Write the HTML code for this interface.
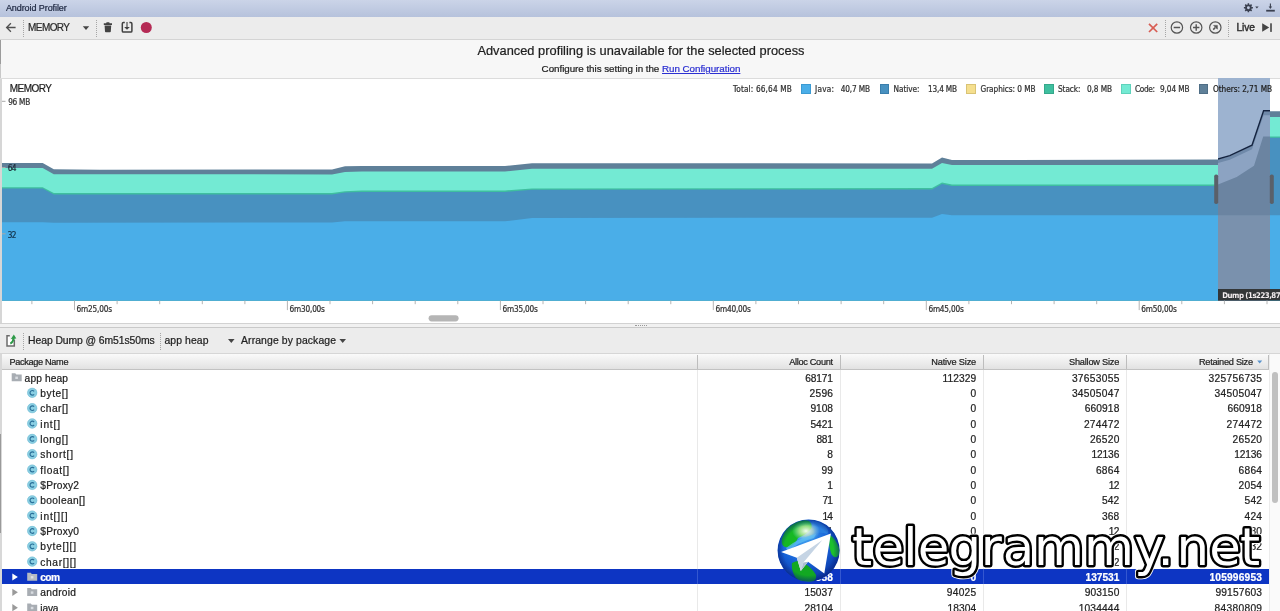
<!DOCTYPE html><html lang="en"><head><meta charset="utf-8"><title>Android Profiler</title><style>
*{box-sizing:border-box;margin:0;padding:0}
html,body{width:1280px;height:611px;overflow:hidden;background:#fff}
body{position:relative;font-family:"Liberation Sans",sans-serif;color:#222}
.t{position:absolute;white-space:pre;-webkit-text-stroke:.22px currentColor}
.abs{position:absolute}
.sep{position:absolute;width:0;border-left:1px dotted #a6a6a6}
svg{position:absolute;overflow:visible}
</style></head><body>
<div class="abs" id="titlebar" style="left:0;top:0;width:1280px;height:17px;background:linear-gradient(#cbd4e8,#b6c2dc)"></div>
<div class="t" style="top:4px;font-size:9px;line-height:9px;color:#1d2740;letter-spacing:-0.075px;left:5.9px;">Android Profiler</div>
<svg style="left:1240px;top:0" width="40" height="17" viewBox="1240 0 40 17">
<g fill="none" stroke="#3a4050" stroke-width="1.9"><circle cx="1248.4" cy="7.8" r="2.4"/></g>
<g stroke="#3a4050" stroke-width="1.5" stroke-linecap="butt">
<path d="M1248.4 3.3v1.8M1248.4 10.5v1.8M1243.9 7.8h1.8M1251.1 7.8h1.8M1245.2 4.6l1.3 1.3M1250.3 9.7l1.3 1.3M1245.2 11l1.3-1.3M1250.3 5.9l1.3-1.3"/></g>
<path d="M1255.2 6.6h3.4l-1.7 2z" fill="#3a4050"/>
<path d="M1270.4 3.4v4.8" fill="none" stroke="#3a4050" stroke-width="1.1"/><path d="M1268.6 6.4h3.6l-1.8 2.4z" fill="#3a4050"/>
<rect x="1266.2" y="9.8" width="8.6" height="1.8" fill="#3a4050"/>
</svg>
<div class="abs" id="toolbar" style="left:0;top:17px;width:1280px;height:23px;background:#ececec;border-bottom:1px solid #d4d4d4"></div>
<svg style="left:0;top:17px" width="160" height="23" viewBox="0 17 160 23">
<path d="M15.6 27.5H6.6M10.9 23.2L6.6 27.5l4.3 4.3" fill="none" stroke="#505050" stroke-width="1.3"/>
<path d="M82.8 26.2h6.4l-3.2 3.8z" fill="#454545"/>
<path d="M103.8 25h8.2v-1.7h-2.3l-.5-1h-2.6l-.5 1h-2.3zM104.6 25.6h6.6l-.4 5.9q-.1.7-.8.7h-4.2q-.7 0-.8-.700z" fill="#424242"/>
<path d="M124.8 22.6h-1.4q-1.1 0-1.1 1.1v7.2q0 1.1 1.1 1.1h7.4q1.1 0 1.1-1.1v-7.2q0-1.1-1.1-1.1h-1.4" fill="none" stroke="#404040" stroke-width="1.5"/>
<path d="M127 22v5.4" fill="none" stroke="#5a5a5a" stroke-width="1.3"/><path d="M124.2 27h5.6l-2.8 2.7z" fill="#404040"/>
<circle cx="146.3" cy="27.5" r="5.5" fill="#b52b55"/>
</svg>
<div class="sep" style="left:23px;top:20px;height:17px"></div>
<div class="sep" style="left:96px;top:20px;height:17px"></div>
<div class="t" style="top:23px;font-size:10px;line-height:10px;color:#2a2a2a;letter-spacing:-0.586px;left:28.1px;">MEMORY</div>
<svg style="left:1140px;top:17px" width="140" height="23" viewBox="1140 17 140 23">
<path d="M1149 23.8l8.2 8.2M1157.2 23.8l-8.2 8.2" stroke="#d85d53" stroke-width="1.7" fill="none"/>
<g fill="none" stroke="#555" stroke-width="1.2">
<circle cx="1176.9" cy="27.5" r="5.7"/><circle cx="1196.2" cy="27.5" r="5.7"/><circle cx="1215.3" cy="27.5" r="5.7"/>
<path d="M1173.7 27.5h6.4M1193 27.5h6.4M1196.2 24.3v6.4" stroke-width="1.4"/>
</g>
<path d="M1213.6 25.4h3.8v3.8z" fill="#555" stroke="#555" stroke-width=".6" stroke-linejoin="round"/><path d="M1213.2 29.6l2-2" stroke="#555" stroke-width="1.5" fill="none"/>
<path d="M1262.2 23.3l7 4.2-7 4.2z" fill="#444"/><rect x="1270.2" y="23.3" width="1.6" height="8.6" fill="#444"/>
</svg>
<div class="sep" style="left:1165px;top:20px;height:17px"></div>
<div class="sep" style="left:1228px;top:20px;height:17px"></div>
<div class="t" style="top:23px;font-size:10.2px;line-height:10.2px;color:#2a2a2a;letter-spacing:-0.068px;left:1236.5px;-webkit-text-stroke:.38px #2a2a2a;">Live</div>
<div class="abs" id="banner" style="left:0;top:40px;width:1280px;height:39px;background:#f7f7f7;border-bottom:1px solid #dcdcdc"></div>
<div class="t" style="top:45px;font-size:12.8px;line-height:12.8px;color:#1e1e1e;letter-spacing:0.023px;left:477.4px;">Advanced profiling is unavailable for the selected process</div>
<div class="t" style="top:64px;font-size:9.8px;line-height:9.8px;color:#222;letter-spacing:-0.036px;left:541.6px;">Configure this setting in the </div>
<div class="t" style="top:64px;font-size:9.8px;line-height:9.8px;color:#2b2fd2;letter-spacing:-0.036px;left:662px;text-decoration:underline;">Run Configuration</div>
<div class="abs" style="left:0;top:40px;width:1.3px;height:24px;background:#9c9c9c"></div><div class="abs" style="left:0;top:64px;width:1.3px;height:14px;background:#c8c8c8"></div><div class="abs" style="left:0;top:79px;width:2px;height:245px;background:#d6d6d6"></div>
<svg id="chart" style="left:0;top:78px" width="1280" height="246" viewBox="0 78 1280 246"><path d="M2 163.1 L42.7 163.1 L53.8 169.2 L100 169.8 L332 169.4 L345 166.3 L362 166 L505 166 L532 163.2 L932 163.5 L942 157.5 L952 160 L1218 159.5 L1229.8 156.2 L1252 145.7 L1263.6 111.3 L1280 111.3 L1280 300.6 L2 300.6 Z" fill="#5f8099"/><path d="M2 168 L42.7 168 L53.8 174.2 L332 174.4 L345 172 L362 171.5 L505 171.5 L532 168.7 L932 168.7 L942 163 L952 165 L1218 165 L1229.8 161.5 L1252 151 L1263.6 116.9 L1280 116.9 L1280 300.6 L2 300.6 Z" fill="#73ead3"/><path d="M2 187.2 L42.7 187.2 L53.8 193.1 L332 193 L345 191.2 L362 190.5 L505 190.5 L532 188.4 L932 188 L942 182.5 L952 184.5 L1218 184.5 L1236.7 177 L1254 165.7 L1263.2 136.4 L1280 136.4 L1280 300.6 L2 300.6 Z" fill="#3fbf9f"/><path d="M2 188.6 L42.7 188.6 L53.8 194.5 L332 194.4 L345 192.6 L362 191.9 L505 191.9 L532 189.8 L932 189.4 L942 183.9 L952 185.9 L1218 185.9 L1236.7 178.4 L1254 167.1 L1263.2 137.8 L1280 137.8 L1280 300.6 L2 300.6 Z" fill="#4891c0"/><path d="M2 222.2 L42.7 222.2 L53.8 222.8 L332 222.5 L345 221.3 L505 221.3 L532 218 L932 217.7 L942 214 L952 215.2 L1280 215.2 L1280 300.6 L2 300.6 Z" fill="#4aaee8"/><clipPath id="sel"><rect x="1218" y="78" width="52" height="222.6"/></clipPath><g clip-path="url(#sel)"><rect x="1218" y="78" width="52" height="222.6" fill="#9db3d0"/><path d="M2 163.1 L42.7 163.1 L53.8 169.2 L100 169.8 L332 169.4 L345 166.3 L362 166 L505 166 L532 163.2 L932 163.5 L942 157.5 L952 160 L1218 159.5 L1229.8 156.2 L1252 145.7 L1263.6 111.3 L1280 111.3 L1280 300.6 L2 300.6 Z" fill="#6f89a9"/><path d="M2 166.6 L42.7 166.6 L53.8 172.7 L100 173.3 L332 172.9 L345 169.8 L362 169.5 L505 169.5 L532 166.7 L932 167 L942 161 L952 163.5 L1218 163 L1229.8 159.7 L1252 149.2 L1263.6 115.3 L1280 115.3 L1280 300.6 L2 300.6 Z" fill="#8ca3c2"/><path d="M2 187.2 L42.7 187.2 L53.8 193.1 L332 193 L345 191.2 L362 190.5 L505 190.5 L532 188.4 L932 188 L942 182.5 L952 184.5 L1218 184.5 L1236.7 177 L1254 165.7 L1263.2 136.4 L1280 136.4 L1280 300.6 L2 300.6 Z" fill="#6b84a1"/><path d="M2 222.2 L42.7 222.2 L53.8 222.8 L332 222.5 L345 221.3 L505 221.3 L532 218 L932 217.7 L942 214 L952 215.2 L1280 215.2 L1280 300.6 L2 300.6 Z" fill="#7a91ad"/><path d="M1218 159 L1229.8 155.7 L1252 145.2 L1263.6 110.8 L1280 110.8" fill="none" stroke="#14233f" stroke-width="1.4"/></g><rect x="1214.2" y="174.4" width="4" height="29.6" rx="1.8" fill="#5a6069"/><rect x="1269.8" y="174.4" width="4" height="29.6" rx="1.8" fill="#5a6069"/><rect x="1218" y="289" width="62" height="11.6" fill="#333638"/><rect x="2" y="100.8" width="3.5" height="1" fill="#a8a8a8"/><rect x="2" y="167" width="3.5" height="1" fill="#a8a8a8"/><rect x="2" y="233.3" width="3.5" height="1" fill="#a8a8a8"/><path d="M31.9 300.6v3.6M74.5 300.6v9.5M117.1 300.6v3.6M159.7 300.6v3.6M202.3 300.6v3.6M244.9 300.6v3.6M287.4 300.6v9.5M330 300.6v3.6M372.6 300.6v3.6M415.2 300.6v3.6M457.8 300.6v3.6M500.4 300.6v9.5M543 300.6v3.6M585.6 300.6v3.6M628.2 300.6v3.6M670.8 300.6v3.6M713.3 300.6v9.5M755.9 300.6v3.6M798.5 300.6v3.6M841.1 300.6v3.6M883.7 300.6v3.6M926.3 300.6v9.5M968.9 300.6v3.6M1011.5 300.6v3.6M1054.1 300.6v3.6M1096.7 300.6v3.6M1139.2 300.6v9.5M1181.8 300.6v3.6M1224.4 300.6v3.6M1267 300.6v3.6" stroke="#b4b4b4" stroke-width="1" fill="none"/><rect x="428.6" y="315.2" width="30" height="6.2" rx="3.1" fill="#b5b5b5"/></svg>
<div class="t" style="top:84px;font-size:10px;line-height:10px;color:#1e1e1e;letter-spacing:-0.526px;left:9.8px;">MEMORY</div>
<div class="t" style="top:98px;font-size:8.2px;line-height:8.2px;color:#333;font-family:'DejaVu Sans Condensed', 'DejaVu Sans', sans-serif;letter-spacing:-0.281px;left:8.2px;">96 MB</div>
<div class="t" style="top:164px;font-size:8.2px;line-height:8.2px;color:#1c2c38;font-family:'DejaVu Sans Condensed', 'DejaVu Sans', sans-serif;letter-spacing:-0.575px;left:7.7px;">64</div>
<div class="t" style="top:231px;font-size:8.2px;line-height:8.2px;color:#12324a;font-family:'DejaVu Sans Condensed', 'DejaVu Sans', sans-serif;letter-spacing:-0.575px;left:7.7px;">32</div>
<div class="t" style="top:305px;font-size:8.2px;line-height:8.2px;color:#333;font-family:'DejaVu Sans Condensed', 'DejaVu Sans', sans-serif;letter-spacing:-0.197px;left:76.6px;">6m25,00s</div>
<div class="t" style="top:305px;font-size:8.2px;line-height:8.2px;color:#333;font-family:'DejaVu Sans Condensed', 'DejaVu Sans', sans-serif;letter-spacing:-0.197px;left:289.55px;">6m30,00s</div>
<div class="t" style="top:305px;font-size:8.2px;line-height:8.2px;color:#333;font-family:'DejaVu Sans Condensed', 'DejaVu Sans', sans-serif;letter-spacing:-0.197px;left:502.5px;">6m35,00s</div>
<div class="t" style="top:305px;font-size:8.2px;line-height:8.2px;color:#333;font-family:'DejaVu Sans Condensed', 'DejaVu Sans', sans-serif;letter-spacing:-0.197px;left:715.45px;">6m40,00s</div>
<div class="t" style="top:305px;font-size:8.2px;line-height:8.2px;color:#333;font-family:'DejaVu Sans Condensed', 'DejaVu Sans', sans-serif;letter-spacing:-0.197px;left:928.4px;">6m45,00s</div>
<div class="t" style="top:305px;font-size:8.2px;line-height:8.2px;color:#333;font-family:'DejaVu Sans Condensed', 'DejaVu Sans', sans-serif;letter-spacing:-0.197px;left:1141.35px;">6m50,00s</div>
<div class="t" style="top:292px;font-size:7.8px;line-height:7.8px;color:#f4eef0;font-weight:bold;font-family:'DejaVu Sans Condensed', 'DejaVu Sans', sans-serif;letter-spacing:-0.511px;left:1222.3px;-webkit-text-stroke:0;">Dump (1s223,87</div>
<div class="t" style="top:85px;font-size:8.2px;line-height:8.2px;color:#333;font-family:'DejaVu Sans Condensed', 'DejaVu Sans', sans-serif;letter-spacing:0.149px;left:733px;">Total: 66,64 MB</div>
<div class="abs" style="left:801px;top:84px;width:9.5px;height:9.5px;background:#4aaee8;border:1px solid #3b9ad2"></div>
<div class="t" style="top:85px;font-size:8.2px;line-height:8.2px;color:#333;font-family:'DejaVu Sans Condensed', 'DejaVu Sans', sans-serif;letter-spacing:0.238px;left:815px;">Java:</div>
<div class="t" style="top:85px;font-size:8.2px;line-height:8.2px;color:#333;font-family:'DejaVu Sans Condensed', 'DejaVu Sans', sans-serif;letter-spacing:-0.159px;left:840.8px;">40,7 MB</div>
<div class="abs" style="left:879.7px;top:84px;width:9.5px;height:9.5px;background:#4891c0;border:1px solid #3a7eac"></div>
<div class="t" style="top:85px;font-size:8.2px;line-height:8.2px;color:#333;font-family:'DejaVu Sans Condensed', 'DejaVu Sans', sans-serif;letter-spacing:-0.057px;left:893.5px;">Native:</div>
<div class="t" style="top:85px;font-size:8.2px;line-height:8.2px;color:#333;font-family:'DejaVu Sans Condensed', 'DejaVu Sans', sans-serif;letter-spacing:-0.193px;left:928px;">13,4 MB</div>
<div class="abs" style="left:966.3px;top:84px;width:9.5px;height:9.5px;background:#f5df8e;border:1px solid #d9c375"></div>
<div class="t" style="top:85px;font-size:8.2px;line-height:8.2px;color:#333;font-family:'DejaVu Sans Condensed', 'DejaVu Sans', sans-serif;letter-spacing:-0.061px;left:980.5px;">Graphics: 0 MB</div>
<div class="abs" style="left:1044.3px;top:84px;width:9.5px;height:9.5px;background:#3fbf9f;border:1px solid #35a88b"></div>
<div class="t" style="top:85px;font-size:8.2px;line-height:8.2px;color:#333;font-family:'DejaVu Sans Condensed', 'DejaVu Sans', sans-serif;letter-spacing:-0.078px;left:1058px;">Stack:</div>
<div class="t" style="top:85px;font-size:8.2px;line-height:8.2px;color:#333;font-family:'DejaVu Sans Condensed', 'DejaVu Sans', sans-serif;letter-spacing:-0.094px;left:1087px;">0,8 MB</div>
<div class="abs" style="left:1121.3px;top:84px;width:9.5px;height:9.5px;background:#73ead3;border:1px solid #5fd2bb"></div>
<div class="t" style="top:85px;font-size:8.2px;line-height:8.2px;color:#333;font-family:'DejaVu Sans Condensed', 'DejaVu Sans', sans-serif;letter-spacing:-0.34px;left:1135px;">Code:</div>
<div class="t" style="top:85px;font-size:8.2px;line-height:8.2px;color:#333;font-family:'DejaVu Sans Condensed', 'DejaVu Sans', sans-serif;letter-spacing:-0.109px;left:1160px;">9,04 MB</div>
<div class="abs" style="left:1198.6px;top:84px;width:9.5px;height:9.5px;background:#5f8099;border:1px solid #4f6e86"></div>
<div class="t" style="top:85px;font-size:8.2px;line-height:8.2px;color:#222;font-family:'DejaVu Sans Condensed', 'DejaVu Sans', sans-serif;letter-spacing:-0.051px;left:1213px;">Others: 2,71 MB</div>
<div class="abs" style="left:0;top:323px;width:1280px;height:5px;background:#f1f1f1;border-top:1px solid #d2d2d2;border-bottom:1px solid #c9c9c9"></div>
<div class="abs" style="left:635px;top:325px;width:12px;height:0;border-top:1px dotted #999"></div>
<div class="abs" id="heapbar" style="left:0;top:328px;width:1280px;height:26px;background:#ececec"></div>
<svg style="left:0;top:328px" width="30" height="26" viewBox="0 328 30 26">
<path d="M7 335.7h7.3v10.2H7z" fill="#fff" stroke="#6c6c6c" stroke-width="1.5"/>
<rect x="9.8" y="334" width="7" height="5.6" fill="#ececec"/>
<path d="M10.3 343.6q2.9-1.3 3.3-5.6" fill="none" stroke="#2c9a47" stroke-width="2"/>
<path d="M10.9 339l5.4-.5-2.5-3.9z" fill="#2c9a47"/>
</svg>
<div class="sep" style="left:23px;top:333px;height:17px"></div>
<div class="sep" style="left:160px;top:333px;height:17px"></div>
<div class="t" style="top:336px;font-size:10.4px;line-height:10.4px;color:#222;letter-spacing:-0.089px;left:28.1px;">Heap Dump @ 6m51s50ms</div>
<div class="t" style="top:336px;font-size:10.4px;line-height:10.4px;color:#222;letter-spacing:0.094px;left:164.5px;">app heap</div>
<div class="t" style="top:336px;font-size:10.4px;line-height:10.4px;color:#222;letter-spacing:0.118px;left:241px;">Arrange by package</div>
<svg style="left:220px;top:328px" width="140" height="26" viewBox="220 328 140 26">
<path d="M228 339h6.6l-3.3 3.9zM339.4 339h6.6l-3.3 3.9z" fill="#454545"/></svg>
<div class="abs" id="thead" style="left:0;top:353px;width:1280px;height:17px;background:linear-gradient(#fafafa,#e2e2e2);border-top:1px solid #d6d6d6;border-bottom:1px solid #c2c2c2"></div>
<div class="abs" id="tbody" style="left:1.5px;top:370px;width:1267.5px;height:241px;background:#fff"></div>
<div class="abs" style="left:0;top:354px;width:1.5px;height:257px;background:#d8d8d8"></div><div class="abs" style="left:0;top:434px;width:1.3px;height:99px;background:#9a9a9a"></div>
<div class="abs" style="left:697px;top:355px;width:1px;height:14px;background:#bdbdbd"></div>
<div class="abs" style="left:697px;top:370px;width:1px;height:241px;background:#e9e9e9"></div>
<div class="abs" style="left:839.7px;top:355px;width:1px;height:14px;background:#bdbdbd"></div>
<div class="abs" style="left:839.7px;top:370px;width:1px;height:241px;background:#e9e9e9"></div>
<div class="abs" style="left:982.7px;top:355px;width:1px;height:14px;background:#bdbdbd"></div>
<div class="abs" style="left:982.7px;top:370px;width:1px;height:241px;background:#e9e9e9"></div>
<div class="abs" style="left:1125.9px;top:355px;width:1px;height:14px;background:#bdbdbd"></div>
<div class="abs" style="left:1125.9px;top:370px;width:1px;height:241px;background:#e9e9e9"></div>
<div class="abs" style="left:1268.1px;top:355px;width:1px;height:14px;background:#bdbdbd"></div>
<div class="abs" style="left:1269px;top:354px;width:11px;height:257px;background:#fafafa;border-left:1px solid #ececec"></div>
<div class="abs" style="left:1271.8px;top:372.2px;width:5.8px;height:131px;border-radius:3px;background:#c0c0c0"></div>
<div class="t" style="top:358px;font-size:9.2px;line-height:9.2px;color:#222;letter-spacing:-0.348px;left:9.5px;">Package Name</div>
<div class="t" style="top:358px;font-size:9.2px;line-height:9.2px;color:#222;letter-spacing:-0.328px;left:789.3px;">Alloc Count</div>
<div class="t" style="top:358px;font-size:9.2px;line-height:9.2px;color:#222;letter-spacing:-0.157px;left:931.3px;">Native Size</div>
<div class="t" style="top:358px;font-size:9.2px;line-height:9.2px;color:#222;letter-spacing:-0.21px;left:1069px;">Shallow Size</div>
<div class="t" style="top:358px;font-size:9.2px;line-height:9.2px;color:#222;letter-spacing:-0.267px;left:1199px;">Retained Size</div>
<svg style="left:1255px;top:358px" width="10" height="8" viewBox="1255 358 10 8"><path d="M1257.2 360.4h5l-2.5 3.2z" fill="#5a93cc"/></svg>
<div class="t" style="top:374px;font-size:10.2px;line-height:10.2px;color:#222;letter-spacing:0.129px;left:24.6px;">app heap</div>
<div class="t" style="top:374px;font-size:10.2px;line-height:10.2px;color:#222;letter-spacing:-0.136px;right:447.14px;">68171</div>
<div class="t" style="top:374px;font-size:10.2px;line-height:10.2px;color:#222;letter-spacing:0.11px;right:303.69px;">112329</div>
<div class="t" style="top:374px;font-size:10.2px;line-height:10.2px;color:#222;letter-spacing:0.296px;right:160.4px;">37653055</div>
<div class="t" style="top:374px;font-size:10.2px;line-height:10.2px;color:#222;letter-spacing:0.3px;right:17.7px;">325756735</div>
<div class="t" style="top:389px;font-size:10.2px;line-height:10.2px;color:#222;letter-spacing:0.556px;left:40.3px;">byte[]</div>
<div class="t" style="top:389px;font-size:10.2px;line-height:10.2px;color:#222;letter-spacing:0.243px;right:446.76px;">2596</div>
<div class="t" style="top:389px;font-size:10.2px;line-height:10.2px;color:#222;right:303.8px;">0</div>
<div class="t" style="top:389px;font-size:10.2px;line-height:10.2px;color:#222;letter-spacing:0.296px;right:160.4px;">34505047</div>
<div class="t" style="top:389px;font-size:10.2px;line-height:10.2px;color:#222;letter-spacing:0.296px;right:17.7px;">34505047</div>
<div class="t" style="top:404px;font-size:10.2px;line-height:10.2px;color:#222;letter-spacing:0.443px;left:40.3px;">char[]</div>
<div class="t" style="top:404px;font-size:10.2px;line-height:10.2px;color:#222;letter-spacing:-0.024px;right:447.02px;">9108</div>
<div class="t" style="top:404px;font-size:10.2px;line-height:10.2px;color:#222;right:303.8px;">0</div>
<div class="t" style="top:404px;font-size:10.2px;line-height:10.2px;color:#222;letter-spacing:0.12px;right:160.58px;">660918</div>
<div class="t" style="top:404px;font-size:10.2px;line-height:10.2px;color:#222;letter-spacing:0.12px;right:17.88px;">660918</div>
<div class="t" style="top:420px;font-size:10.2px;line-height:10.2px;color:#222;letter-spacing:0.82px;left:40.3px;">int[]</div>
<div class="t" style="top:420px;font-size:10.2px;line-height:10.2px;color:#222;letter-spacing:-0.024px;right:447.02px;">5421</div>
<div class="t" style="top:420px;font-size:10.2px;line-height:10.2px;color:#222;right:303.8px;">0</div>
<div class="t" style="top:420px;font-size:10.2px;line-height:10.2px;color:#222;letter-spacing:0.28px;right:160.42px;">274472</div>
<div class="t" style="top:420px;font-size:10.2px;line-height:10.2px;color:#222;letter-spacing:0.28px;right:17.72px;">274472</div>
<div class="t" style="top:435px;font-size:10.2px;line-height:10.2px;color:#222;letter-spacing:0.556px;left:40.3px;">long[]</div>
<div class="t" style="top:435px;font-size:10.2px;line-height:10.2px;color:#222;letter-spacing:-0.2px;right:447.2px;">881</div>
<div class="t" style="top:435px;font-size:10.2px;line-height:10.2px;color:#222;right:303.8px;">0</div>
<div class="t" style="top:435px;font-size:10.2px;line-height:10.2px;color:#222;letter-spacing:0.264px;right:160.44px;">26520</div>
<div class="t" style="top:435px;font-size:10.2px;line-height:10.2px;color:#222;letter-spacing:0.264px;right:17.74px;">26520</div>
<div class="t" style="top:450px;font-size:10.2px;line-height:10.2px;color:#222;letter-spacing:0.731px;left:40.3px;">short[]</div>
<div class="t" style="top:450px;font-size:10.2px;line-height:10.2px;color:#222;right:447px;">8</div>
<div class="t" style="top:450px;font-size:10.2px;line-height:10.2px;color:#222;right:303.8px;">0</div>
<div class="t" style="top:450px;font-size:10.2px;line-height:10.2px;color:#222;letter-spacing:-0.136px;right:160.84px;">12136</div>
<div class="t" style="top:450px;font-size:10.2px;line-height:10.2px;color:#222;letter-spacing:-0.136px;right:18.14px;">12136</div>
<div class="t" style="top:466px;font-size:10.2px;line-height:10.2px;color:#222;letter-spacing:0.63px;left:40.3px;">float[]</div>
<div class="t" style="top:466px;font-size:10.2px;line-height:10.2px;color:#222;letter-spacing:0.056px;right:446.94px;">99</div>
<div class="t" style="top:466px;font-size:10.2px;line-height:10.2px;color:#222;right:303.8px;">0</div>
<div class="t" style="top:466px;font-size:10.2px;line-height:10.2px;color:#222;letter-spacing:0.243px;right:160.46px;">6864</div>
<div class="t" style="top:466px;font-size:10.2px;line-height:10.2px;color:#222;letter-spacing:0.243px;right:17.76px;">6864</div>
<div class="t" style="top:481px;font-size:10.2px;line-height:10.2px;color:#222;letter-spacing:0.221px;left:40.3px;">$Proxy2</div>
<div class="t" style="top:481px;font-size:10.2px;line-height:10.2px;color:#222;right:447px;">1</div>
<div class="t" style="top:481px;font-size:10.2px;line-height:10.2px;color:#222;right:303.8px;">0</div>
<div class="t" style="top:481px;font-size:10.2px;line-height:10.2px;color:#222;letter-spacing:-0.744px;right:161.44px;">12</div>
<div class="t" style="top:481px;font-size:10.2px;line-height:10.2px;color:#222;letter-spacing:0.243px;right:17.76px;">2054</div>
<div class="t" style="top:496px;font-size:10.2px;line-height:10.2px;color:#222;letter-spacing:0.347px;left:40.3px;">boolean[]</div>
<div class="t" style="top:496px;font-size:10.2px;line-height:10.2px;color:#222;letter-spacing:-0.744px;right:447.74px;">71</div>
<div class="t" style="top:496px;font-size:10.2px;line-height:10.2px;color:#222;right:303.8px;">0</div>
<div class="t" style="top:496px;font-size:10.2px;line-height:10.2px;color:#222;letter-spacing:0.2px;right:160.5px;">542</div>
<div class="t" style="top:496px;font-size:10.2px;line-height:10.2px;color:#222;letter-spacing:0.2px;right:17.8px;">542</div>
<div class="t" style="top:512px;font-size:10.2px;line-height:10.2px;color:#222;letter-spacing:0.851px;left:40.3px;">int[][]</div>
<div class="t" style="top:512px;font-size:10.2px;line-height:10.2px;color:#222;letter-spacing:-0.744px;right:447.74px;">14</div>
<div class="t" style="top:512px;font-size:10.2px;line-height:10.2px;color:#222;right:303.8px;">0</div>
<div class="t" style="top:512px;font-size:10.2px;line-height:10.2px;color:#222;letter-spacing:0.2px;right:160.5px;">368</div>
<div class="t" style="top:512px;font-size:10.2px;line-height:10.2px;color:#222;letter-spacing:0.2px;right:17.8px;">424</div>
<div class="t" style="top:527px;font-size:10.2px;line-height:10.2px;color:#222;letter-spacing:0.221px;left:40.3px;">$Proxy0</div>
<div class="t" style="top:527px;font-size:10.2px;line-height:10.2px;color:#222;right:447px;">1</div>
<div class="t" style="top:527px;font-size:10.2px;line-height:10.2px;color:#222;right:303.8px;">0</div>
<div class="t" style="top:527px;font-size:10.2px;line-height:10.2px;color:#222;letter-spacing:-0.744px;right:161.44px;">12</div>
<div class="t" style="top:527px;font-size:10.2px;line-height:10.2px;color:#222;letter-spacing:0.2px;right:17.8px;">280</div>
<div class="t" style="top:542px;font-size:10.2px;line-height:10.2px;color:#222;letter-spacing:0.732px;left:40.3px;">byte[][]</div>
<div class="t" style="top:542px;font-size:10.2px;line-height:10.2px;color:#222;right:447px;">2</div>
<div class="t" style="top:542px;font-size:10.2px;line-height:10.2px;color:#222;right:303.8px;">0</div>
<div class="t" style="top:542px;font-size:10.2px;line-height:10.2px;color:#222;letter-spacing:0.056px;right:160.64px;">32</div>
<div class="t" style="top:542px;font-size:10.2px;line-height:10.2px;color:#222;letter-spacing:0.2px;right:17.8px;">232</div>
<div class="t" style="top:558px;font-size:10.2px;line-height:10.2px;color:#222;letter-spacing:0.651px;left:40.3px;">char[][]</div>
<div class="t" style="top:558px;font-size:10.2px;line-height:10.2px;color:#222;right:447px;">2</div>
<div class="t" style="top:558px;font-size:10.2px;line-height:10.2px;color:#222;right:303.8px;">0</div>
<div class="t" style="top:558px;font-size:10.2px;line-height:10.2px;color:#222;letter-spacing:0.056px;right:160.64px;">32</div>
<div class="t" style="top:558px;font-size:10.2px;line-height:10.2px;color:#222;letter-spacing:-0.2px;right:18.2px;">132</div>
<div class="abs" id="selrow" style="left:2px;top:569.1px;width:1266.8px;height:15.3px;background:#0d35c3"></div>
<div class="abs" style="left:697px;top:569.1px;width:1px;height:15.3px;background:#3457d0"></div>
<div class="abs" style="left:839.7px;top:569.1px;width:1px;height:15.3px;background:#3457d0"></div>
<div class="abs" style="left:982.7px;top:569.1px;width:1px;height:15.3px;background:#3457d0"></div>
<div class="abs" style="left:1125.9px;top:569.1px;width:1px;height:15.3px;background:#3457d0"></div>
<div class="t" style="top:573px;font-size:10.2px;line-height:10.2px;color:#fff;font-weight:bold;letter-spacing:-0.627px;left:40.3px;">com</div>
<div class="t" style="top:573px;font-size:10.2px;line-height:10.2px;color:#fff;font-weight:bold;letter-spacing:0.264px;right:446.74px;">25358</div>
<div class="t" style="top:573px;font-size:10.2px;line-height:10.2px;color:#fff;font-weight:bold;right:303.8px;">0</div>
<div class="t" style="top:573px;font-size:10.2px;line-height:10.2px;color:#fff;font-weight:bold;letter-spacing:-0.04px;right:160.74px;">137531</div>
<div class="t" style="top:573px;font-size:10.2px;line-height:10.2px;color:#fff;font-weight:bold;letter-spacing:0.2px;right:17.8px;">105996953</div>
<div class="t" style="top:588px;font-size:10.2px;line-height:10.2px;color:#222;letter-spacing:0.283px;left:40.3px;">android</div>
<div class="t" style="top:588px;font-size:10.2px;line-height:10.2px;color:#222;letter-spacing:0.064px;right:446.94px;">15037</div>
<div class="t" style="top:588px;font-size:10.2px;line-height:10.2px;color:#222;letter-spacing:0.264px;right:303.54px;">94025</div>
<div class="t" style="top:588px;font-size:10.2px;line-height:10.2px;color:#222;letter-spacing:0.12px;right:160.58px;">903150</div>
<div class="t" style="top:588px;font-size:10.2px;line-height:10.2px;color:#222;letter-spacing:0.182px;right:17.82px;">99157603</div>
<div class="t" style="top:604px;font-size:10.2px;line-height:10.2px;color:#222;letter-spacing:-0.168px;left:40.3px;">java</div>
<div class="t" style="top:604px;font-size:10.2px;line-height:10.2px;color:#222;letter-spacing:0.064px;right:446.94px;">28104</div>
<div class="t" style="top:604px;font-size:10.2px;line-height:10.2px;color:#222;letter-spacing:0.064px;right:303.74px;">18304</div>
<div class="t" style="top:604px;font-size:10.2px;line-height:10.2px;color:#222;letter-spacing:0.155px;right:160.55px;">1034444</div>
<div class="t" style="top:604px;font-size:10.2px;line-height:10.2px;color:#222;letter-spacing:0.296px;right:17.7px;">84380809</div>
<svg id="rowicons" style="left:0;top:370px" width="60" height="241" viewBox="0 370 60 241"><path d="M11.7 373.2h3.6l1 1.3h5.4v6.8h-10z" fill="#a8adb3"/><rect x="15.299999999999999" y="376.6" width="2.6" height="2.4" fill="#e8ecf0" opacity=".75"/><circle cx="32.2" cy="392.8" r="4.9" fill="#8acfe3"/><circle cx="32.2" cy="392.8" r="4.7" fill="none" stroke="#74bbd3" stroke-width=".5"/><path d="M34.1 391.3a2.3 2.3 0 1 0 0 3" fill="none" stroke="#2a7099" stroke-width="1.2"/><circle cx="32.2" cy="408.2" r="4.9" fill="#8acfe3"/><circle cx="32.2" cy="408.2" r="4.7" fill="none" stroke="#74bbd3" stroke-width=".5"/><path d="M34.1 406.7a2.3 2.3 0 1 0 0 3" fill="none" stroke="#2a7099" stroke-width="1.2"/><circle cx="32.2" cy="423.5" r="4.9" fill="#8acfe3"/><circle cx="32.2" cy="423.5" r="4.7" fill="none" stroke="#74bbd3" stroke-width=".5"/><path d="M34.1 422a2.3 2.3 0 1 0 0 3" fill="none" stroke="#2a7099" stroke-width="1.2"/><circle cx="32.2" cy="438.9" r="4.9" fill="#8acfe3"/><circle cx="32.2" cy="438.9" r="4.7" fill="none" stroke="#74bbd3" stroke-width=".5"/><path d="M34.1 437.4a2.3 2.3 0 1 0 0 3" fill="none" stroke="#2a7099" stroke-width="1.2"/><circle cx="32.2" cy="454.2" r="4.9" fill="#8acfe3"/><circle cx="32.2" cy="454.2" r="4.7" fill="none" stroke="#74bbd3" stroke-width=".5"/><path d="M34.1 452.7a2.3 2.3 0 1 0 0 3" fill="none" stroke="#2a7099" stroke-width="1.2"/><circle cx="32.2" cy="469.6" r="4.9" fill="#8acfe3"/><circle cx="32.2" cy="469.6" r="4.7" fill="none" stroke="#74bbd3" stroke-width=".5"/><path d="M34.1 468.1a2.3 2.3 0 1 0 0 3" fill="none" stroke="#2a7099" stroke-width="1.2"/><circle cx="32.2" cy="484.9" r="4.9" fill="#8acfe3"/><circle cx="32.2" cy="484.9" r="4.7" fill="none" stroke="#74bbd3" stroke-width=".5"/><path d="M34.1 483.4a2.3 2.3 0 1 0 0 3" fill="none" stroke="#2a7099" stroke-width="1.2"/><circle cx="32.2" cy="500.3" r="4.9" fill="#8acfe3"/><circle cx="32.2" cy="500.3" r="4.7" fill="none" stroke="#74bbd3" stroke-width=".5"/><path d="M34.1 498.8a2.3 2.3 0 1 0 0 3" fill="none" stroke="#2a7099" stroke-width="1.2"/><circle cx="32.2" cy="515.6" r="4.9" fill="#8acfe3"/><circle cx="32.2" cy="515.6" r="4.7" fill="none" stroke="#74bbd3" stroke-width=".5"/><path d="M34.1 514.1a2.3 2.3 0 1 0 0 3" fill="none" stroke="#2a7099" stroke-width="1.2"/><circle cx="32.2" cy="531" r="4.9" fill="#8acfe3"/><circle cx="32.2" cy="531" r="4.7" fill="none" stroke="#74bbd3" stroke-width=".5"/><path d="M34.1 529.5a2.3 2.3 0 1 0 0 3" fill="none" stroke="#2a7099" stroke-width="1.2"/><circle cx="32.2" cy="546.3" r="4.9" fill="#8acfe3"/><circle cx="32.2" cy="546.3" r="4.7" fill="none" stroke="#74bbd3" stroke-width=".5"/><path d="M34.1 544.8a2.3 2.3 0 1 0 0 3" fill="none" stroke="#2a7099" stroke-width="1.2"/><circle cx="32.2" cy="561.6" r="4.9" fill="#8acfe3"/><circle cx="32.2" cy="561.6" r="4.7" fill="none" stroke="#74bbd3" stroke-width=".5"/><path d="M34.1 560.1a2.3 2.3 0 1 0 0 3" fill="none" stroke="#2a7099" stroke-width="1.2"/><path d="M27.2 572.7h3.6l1 1.3h5.4v6.8h-10z" fill="#b4bac2"/><rect x="30.8" y="576.1" width="2.6" height="2.4" fill="#e8ecf0" opacity=".75"/><path d="M12.3 573.4l5.6 3.6-5.6 3.6z" fill="#fff"/><path d="M27.2 588h3.6l1 1.3h5.4v6.8h-10z" fill="#a8adb3"/><rect x="30.8" y="591.4" width="2.6" height="2.4" fill="#e8ecf0" opacity=".75"/><path d="M12.3 588.7l5.6 3.6-5.6 3.6z" fill="#9a9a9a"/><path d="M27.2 603.4h3.6l1 1.3h5.4v6.8h-10z" fill="#a8adb3"/><rect x="30.8" y="606.8" width="2.6" height="2.4" fill="#e8ecf0" opacity=".75"/><path d="M12.3 604.1l5.6 3.6-5.6 3.6z" fill="#9a9a9a"/></svg>
<svg id="wm" style="left:770px;top:510px" width="510" height="90" viewBox="770 510 510 90">
<defs>
<radialGradient id="gl" cx="0.42" cy="0.3" r="0.75"><stop offset="0" stop-color="#3fa0f0"/><stop offset=".55" stop-color="#1660d6"/><stop offset="1" stop-color="#0a2e9c"/></radialGradient>
<radialGradient id="gh" cx="0.5" cy="0.5" r="0.5"><stop offset="0" stop-color="#fff" stop-opacity=".95"/><stop offset=".5" stop-color="#e8f7c0" stop-opacity=".6"/><stop offset="1" stop-color="#9fe8ff" stop-opacity="0"/></radialGradient>
<radialGradient id="gs" cx="0.5" cy="0.5" r="0.5"><stop offset=".8" stop-color="#06207a" stop-opacity="0"/><stop offset="1" stop-color="#06207a" stop-opacity=".55"/></radialGradient>
<clipPath id="gc"><circle cx="808.6" cy="550.5" r="31"/></clipPath>
</defs>
<circle cx="808.6" cy="550.5" r="31" fill="url(#gl)"/>
<g clip-path="url(#gc)">
<path d="M783 536q3-9 12-13 8-4 14-2 4 3 2 8-5 6-13 9-3 7-9 9-5 1-7-3-1-5 1-8z" fill="#16b824"/>
<path d="M830 535q6 4 9 13 1 7-2 9-4 1-6-4-3-9-1-18z" fill="#1cc02c"/>
<path d="M792 563q7-4 12 0 8 5 12 12 1 5-4 7-9 2-16-4-5-7-4-15z" fill="#12a822"/>
<path d="M812 521q8 0 14 6 4 5 1 7-6-2-10-1-5-5-5-12z" fill="#2a7fe0"/>
<ellipse cx="806" cy="531" rx="14" ry="10" fill="url(#gh)"/><path d="M786 548q12-10 30-14l-2 4q-16 4-26 14z" fill="#5fc0f5" opacity=".7"/>
<circle cx="808.6" cy="550.5" r="31" fill="url(#gs)"/>
</g>
<path d="M781.1 551.9L830.9 533.6 824.3 573.5 808 561.7 800.8 570.9 796.8 557.8z" fill="#fff"/>
<path d="M796.8 557.8L822.4 540.1 803.4 562.4 800.8 570.9z" fill="#c5d4e4"/>
<path d="M803.4 562.4l4.6-.7-7.2 9.2z" fill="#a9bdd2"/>
<g font-family="DejaVu Sans, sans-serif" font-size="51.3" letter-spacing=".25">
<text x="852" y="565.2" dx="0 .1 -.97 -.2 -.97 -.62 .82 -.62 -.05 -.05 0 2.36 -.05 -.97" fill="none" stroke="#fff" stroke-width="6.6" stroke-linejoin="round">telegrammy.net</text>
<text x="852" y="565.2" dx="0 .1 -.97 -.2 -.97 -.62 .82 -.62 -.05 -.05 0 2.36 -.05 -.97" fill="none" stroke="#000" stroke-width="4.9" stroke-linejoin="round">telegrammy.net</text>
<text x="852" y="565.2" dx="0 .1 -.97 -.2 -.97 -.62 .82 -.62 -.05 -.05 0 2.36 -.05 -.97" fill="#fff">telegrammy.net</text>
</g>
</svg>
</body></html>
